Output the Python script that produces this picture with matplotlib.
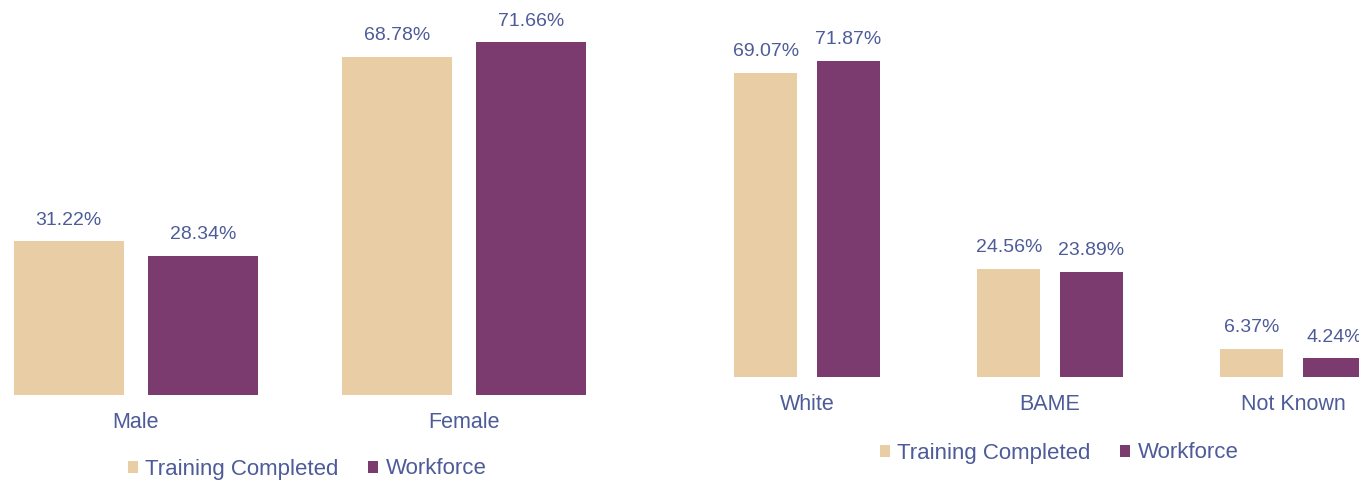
import matplotlib
matplotlib.use('Agg')
import numpy as np
import matplotlib.pyplot as plt
from matplotlib.patches import Patch

plt.rcParams['font.family'] = ['Liberation Sans', 'DejaVu Sans']

# data
gender_cats = ['Male', 'Female']
gender_training = [31.22, 68.78]
gender_workforce = [28.34, 71.66]

ethnic_cats = ['White', 'BAME', 'Not Known']
ethnic_training = [69.07, 24.56, 6.37]
ethnic_workforce = [71.87, 23.89, 4.24]

series_names = ['Training Completed', 'Workforce']

# styling
COLOR_TRAIN = '#e8cda5'
COLOR_WORK = '#7c3b6e'
TEXT_COLOR = '#4d5b99'

W, H = 1359, 483
fig = plt.figure(figsize=(W / 100, H / 100), dpi=100, facecolor='white')


def draw_panel(rect, cats, train, work, xlim, offset, width):
    ax = fig.add_axes(rect)
    x = np.arange(len(cats))
    b1 = ax.bar(x - offset, train, width, color=COLOR_TRAIN)
    b2 = ax.bar(x + offset, work, width, color=COLOR_WORK)
    for bars in (b1, b2):
        for bar in bars:
            h = bar.get_height()
            ax.annotate(f'{h:.2f}%', xy=(bar.get_x() + bar.get_width() / 2, h),
                        xytext=(0, 12), textcoords='offset points',
                        ha='center', va='baseline', fontsize=14,
                        color=TEXT_COLOR, annotation_clip=False)
    ax.set_xlim(*xlim)
    ax.set_ylim(0, 80)
    ax.set_xticks(x)
    ax.set_xticklabels(cats, fontsize=15.5, color=TEXT_COLOR)
    ax.tick_params(axis='x', length=0, pad=12)
    ax.set_yticks([])
    for s in ax.spines.values():
        s.set_visible(False)
    ax.patch.set_alpha(0)
    return ax


# left panel: gender (category spacing 328 px)
sp = 328
left_px = 136 - 0.4 * sp
draw_panel([left_px / W, 88 / H, 1.85 * sp / W, 80 * 4.92 / H],
           gender_cats, gender_training, gender_workforce,
           (-0.4, 1.45), 0.205, 0.335)

# right panel: ethnicity (category spacing 243 px)
sp2 = 243
left2 = 807 - 0.4 * sp2
draw_panel([left2 / W, 106 / H, 2.8 * sp2 / W, 80 * 4.40 / H],
           ethnic_cats, ethnic_training, ethnic_workforce,
           (-0.4, 2.4), 0.17, 0.26)

handles = [Patch(facecolor=COLOR_TRAIN), Patch(facecolor=COLOR_WORK)]
for cx, cy in [(307, 469), (1059, 453)]:
    leg = fig.legend(handles, series_names, loc='center',
                     bbox_to_anchor=(cx / W, 1 - cy / H), ncol=2, frameon=False,
                     fontsize=16, handlelength=0.45, handleheight=0.45,
                     handletextpad=0.35, columnspacing=1.3)
    for t in leg.get_texts():
        t.set_color(TEXT_COLOR)

fig.savefig('out.png', dpi=100, facecolor='white')
